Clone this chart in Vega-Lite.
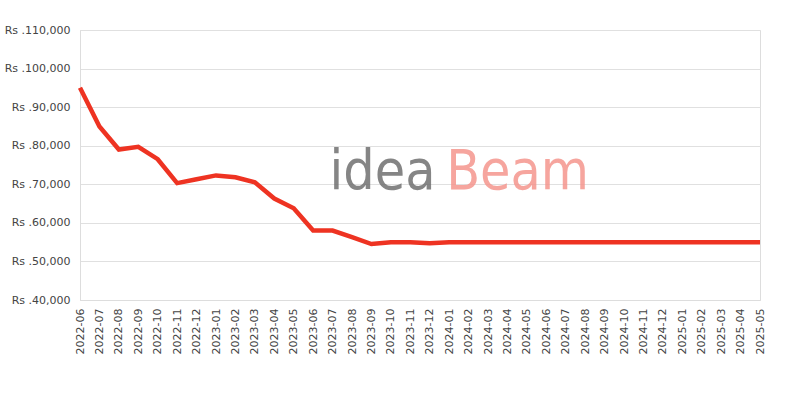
{
  "$schema": "https://vega.github.io/schema/vega-lite/v6.json",
  "width": 680,
  "height": 270,
  "autosize": {"type": "none"},
  "padding": {"left": 80, "top": 30, "right": 40, "bottom": 100},
  "background": "white",
  "config": {
    "view": {"stroke": "#dddddd", "strokeWidth": 1},
    "font": "DejaVu Sans",
    "axis": {
      "labelFont": "DejaVu Sans",
      "labelFontSize": 11,
      "labelColor": "#444444",
      "ticks": false,
      "domainColor": "#dddddd",
      "gridColor": "#e0e0e0",
      "title": null
    }
  },
  "datasets": {
    "prices": [
      {"month": "2022-06", "price": 95000},
      {"month": "2022-07", "price": 85000},
      {"month": "2022-08", "price": 79000},
      {"month": "2022-09", "price": 79700},
      {"month": "2022-10", "price": 76500},
      {"month": "2022-11", "price": 70300},
      {"month": "2022-12", "price": 71300},
      {"month": "2023-01", "price": 72300},
      {"month": "2023-02", "price": 71800},
      {"month": "2023-03", "price": 70500},
      {"month": "2023-04", "price": 66300},
      {"month": "2023-05", "price": 63800},
      {"month": "2023-06", "price": 58000},
      {"month": "2023-07", "price": 58000},
      {"month": "2023-08", "price": 56300},
      {"month": "2023-09", "price": 54500},
      {"month": "2023-10", "price": 55000},
      {"month": "2023-11", "price": 55000},
      {"month": "2023-12", "price": 54700},
      {"month": "2024-01", "price": 55000},
      {"month": "2024-02", "price": 55000},
      {"month": "2024-03", "price": 55000},
      {"month": "2024-04", "price": 55000},
      {"month": "2024-05", "price": 55000},
      {"month": "2024-06", "price": 55000},
      {"month": "2024-07", "price": 55000},
      {"month": "2024-08", "price": 55000},
      {"month": "2024-09", "price": 55000},
      {"month": "2024-10", "price": 55000},
      {"month": "2024-11", "price": 55000},
      {"month": "2024-12", "price": 55000},
      {"month": "2025-01", "price": 55000},
      {"month": "2025-02", "price": 55000},
      {"month": "2025-03", "price": 55000},
      {"month": "2025-04", "price": 55000},
      {"month": "2025-05", "price": 55000}
    ],
    "brand": [
      {"month": "2023-07", "price": 68800, "word": "idea"},
      {"month": "2024-01", "price": 68800, "word": "Beam"}
    ]
  },
  "encoding": {
    "x": {
      "field": "month",
      "type": "ordinal",
      "sort": null,
      "scale": {"type": "point", "padding": 0},
      "axis": {"labelAngle": 270, "labelPadding": 8, "grid": false, "domain": true, "labelOverlap": false}
    },
    "y": {
      "field": "price",
      "type": "quantitative",
      "scale": {"domain": [40000, 110000], "nice": false, "zero": false},
      "axis": {
        "values": [40000, 50000, 60000, 70000, 80000, 90000, 100000, 110000],
        "labelExpr": "'Rs .' + format(datum.value, ',')",
        "labelPadding": 10,
        "labelOverlap": false,
        "grid": true,
        "domain": true
      }
    }
  },
  "layer": [
    {
      "data": {"name": "prices"},
      "mark": {"type": "line", "color": "#ee3322", "strokeWidth": 4.5, "strokeJoin": "miter", "strokeCap": "butt"}
    },
    {
      "data": {"name": "brand"},
      "mark": {
        "type": "text",
        "align": "left",
        "baseline": "alphabetic",
        "font": "DejaVu Sans Condensed",
        "fontSize": 55,
        "dx": -3,
        "opacity": 0.85
      },
      "encoding": {
        "text": {"field": "word"},
        "color": {
          "field": "word",
          "type": "nominal",
          "scale": {"domain": ["idea", "Beam"], "range": ["#707070", "#f5968e"]},
          "legend": null
        }
      }
    }
  ]
}
